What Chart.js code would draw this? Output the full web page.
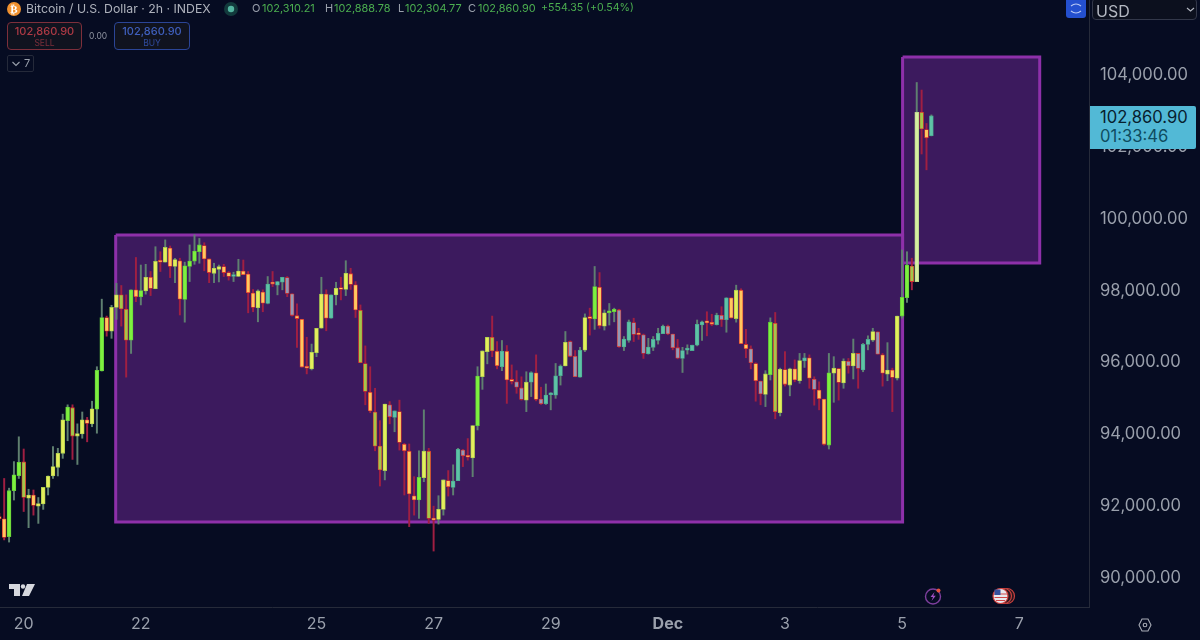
<!DOCTYPE html>
<html>
<head>
<meta charset="utf-8">
<title>Bitcoin / U.S. Dollar</title>
<script src="https://cdn.jsdelivr.net/npm/chart.js@4"></script>
<style>
  html, body { margin: 0; padding: 0; background: #060c22; overflow: hidden; }
  #wrap { position: relative; width: 1200px; height: 640px; font-family: Inter, "Noto Sans", sans-serif; }
  canvas { position: absolute; left: 0; top: 0; }
  .t { position: absolute; white-space: nowrap; line-height: 1; }
  .box { position: absolute; box-sizing: border-box; border-radius: 4px; background: #10131f; }
  .g { color: #4caf50; font-size: 10.9px; top: 3px; }
  .k { color: #9aa0ac; font-size: 11px; top: 3px; }
  svg { position: absolute; }
</style>
</head>
<body>
<div id="wrap">
  <canvas id="chart" width="1200" height="640"></canvas>

  <svg style="left:7px;top:2px" width="14" height="14"><circle cx="7" cy="7" r="7" fill="#f0912f"/><text x="7" y="11" font-size="11" font-family="DejaVu Sans" font-weight="bold" fill="#fff" text-anchor="middle">₿</text></svg>
  <div class="t" style="left:26px;top:3px;font-size:12.3px;color:#aeb2bc">Bitcoin / U.S. Dollar · 2h · INDEX</div>
  <svg style="left:224px;top:2px" width="14" height="14"><circle cx="7" cy="7" r="7" fill="#123a3c"/><circle cx="7" cy="7" r="3.2" fill="#53b5a0"/></svg>
  <div class="t k" style="left:252px">O</div><div class="t g" style="left:262px">102,310.21</div>
  <div class="t k" style="left:325px">H</div><div class="t g" style="left:334px">102,888.78</div>
  <div class="t k" style="left:398px">L</div><div class="t g" style="left:405px">102,304.77</div>
  <div class="t k" style="left:468px">C</div><div class="t g" style="left:478px">102,860.90</div>
  <div class="t g" style="left:541px;font-size:10.6px">+554.35 (+0.54%)</div>

  <div class="box" style="left:7px;top:22px;width:75px;height:28px;border:1px solid #7d2f3b"></div>
  <div class="t" style="left:7px;top:26px;width:75px;text-align:center;font-size:11px;font-weight:500;color:#ad3a45">102,860.90</div>
  <div class="t" style="left:7px;top:39px;width:75px;text-align:center;font-size:8.5px;color:#7d2f3b">SELL</div>
  <div class="t" style="left:89px;top:32px;font-size:8.5px;color:#8e93a0">0.00</div>
  <div class="box" style="left:114px;top:22px;width:76px;height:28px;border:1px solid #2b4596"></div>
  <div class="t" style="left:114px;top:26px;width:76px;text-align:center;font-size:11px;font-weight:500;color:#3f5fbd">102,860.90</div>
  <div class="t" style="left:114px;top:39px;width:76px;text-align:center;font-size:8.5px;color:#2f4a9c">BUY</div>
  <div class="box" style="left:7px;top:55px;width:27px;height:17px;border:1px solid #252a3a;background:none;border-radius:2px"></div>
  <svg style="left:11px;top:60px" width="10" height="8"><path d="M1.5 2 L5 5.5 L8.5 2" stroke="#9aa0ac" stroke-width="1.1" fill="none"/></svg>
  <div class="t" style="left:24px;top:58px;font-size:11px;color:#9aa0ac">7</div>

  <div style="position:absolute;left:1066px;top:0;width:20px;height:18px;background:#2450cf;border-radius:0 0 3px 3px"></div>
  <svg style="left:1070px;top:2px" width="12" height="13"><path d="M1 4 Q6 0 11 4 M1 9 Q6 13 11 9" stroke="#b8c8f4" stroke-width="1.2" fill="none"/></svg>
  <div class="box" style="left:1092px;top:-2px;width:105px;height:22px;border:1px solid #33384a;background:#0c101e"></div>
  <div class="t" style="left:1096px;top:3px;font-size:16px;color:#b4b8c2">USD</div>
  <svg style="left:1186px;top:7px" width="9" height="6"><path d="M1 1 L4.5 4 L8 1" stroke="#b4b8c2" stroke-width="1.1" fill="none"/></svg>

  <div style="position:absolute;left:1090px;top:106px;width:106px;height:43px;background:#52b9d6;border-radius:0 2px 2px 0"></div>
  <div class="t" style="left:1100px;top:109px;font-size:16.6px;color:#07202e">102,860.90</div>
  <div class="t" style="left:1100px;top:128px;font-size:16.6px;color:#0e4c60">01:33:46</div>

  <svg style="left:9px;top:583px" width="27" height="15"><path d="M0 1 H11 V13 H5 V6 H0 Z M13 13 L18 1 H26 L20 13 Z" fill="#d6d8de"/><circle cx="14" cy="3.5" r="2.2" fill="#d6d8de"/></svg>
  <svg style="left:923px;top:586px" width="22" height="20"><circle cx="10" cy="10.5" r="7.5" stroke="#7e3f9d" stroke-width="1.4" fill="none"/><path d="M11.5 6 L7.5 11 H10 L8.5 15 L12.8 9.8 H10.3 Z" fill="#a04fc4"/><circle cx="15.5" cy="4.5" r="2" fill="#e5533d"/></svg>
  <svg style="left:992px;top:586px" width="24" height="20"><circle cx="15" cy="10" r="7.5" fill="#2a1720" stroke="#c8413e" stroke-width="1.2"/><circle cx="12" cy="10" r="7.5" fill="#2a1720" stroke="#c8413e" stroke-width="1.2"/><circle cx="8.5" cy="10" r="7.5" fill="#e8e8ee" stroke="#d03f3c" stroke-width="1.2"/><path d="M2 8 H15 M2.5 11.5 H15 M4 14.5 H13" stroke="#d04848" stroke-width="1.2"/><path d="M2.5 3.5 H8.5 V9 H2.5 Z" fill="#35509c"/></svg>
  <svg style="left:1138px;top:618px" width="14" height="14"><path d="M4 1 H10 L13 7 L10 13 H4 L1 7 Z" stroke="#a8acb6" stroke-width="1.1" fill="none"/><circle cx="7" cy="7" r="1.8" stroke="#a8acb6" stroke-width="1.1" fill="none"/></svg>
</div>

<script>
// 2h candles, first one sits 5 bars left of the "20" tick
const firstBar = -5;
const barsPerDay = 12;

const opens = [
  91710, 91650, 91150, 92430, 92850, 93230, 92220, 92310, 92000, 92060,
  92520, 92840, 93080, 93470, 94380, 94740, 93950, 94010, 94400, 94290,
  94700, 95760, 97250, 96870, 97530, 97880, 97480, 96620, 98020, 97830,
  97990, 98370, 98050, 98810, 98790, 99180, 98670, 98830, 97750, 98670,
  98820, 99080, 99250, 98880, 98480, 98590, 98670, 98500, 98390, 98390,
  98540, 98460, 97930, 97520, 97960, 97640, 98200, 98150, 98230, 98360,
  97910, 97300, 97200, 95870, 95820, 96270, 96950, 97900, 97230, 97880,
  98050, 98030, 98470, 98160, 97450, 95970, 95170, 94620, 93670, 92990,
  94820, 94470, 94630, 93720, 93530, 92290, 92170, 92790, 93530, 91660,
  91630, 91910, 92710, 92520, 92710, 93560, 93390, 93340, 94240, 95600,
  96300, 96700, 96310, 95880, 96310, 95510, 95460, 95290, 94950, 95450,
  95710, 94980, 94850, 95100, 95090, 95630, 95900, 96580, 96170, 95590,
  96340, 97250, 97210, 98090, 97010, 97380, 97410, 97460, 96430, 96610,
  97110, 96790, 96770, 96240, 96420, 96610, 96800, 97010, 96790, 96410,
  96110, 96340, 96330, 96480, 97040, 97120, 97090, 97050, 97310, 97190,
  97800, 97220, 98010, 96500, 96380, 95970, 95480, 95110, 95660, 97090,
  94600, 95800, 95370, 95820, 95490, 96040, 96130, 95530, 95230, 94980,
  93700, 95700, 95830, 95430, 96030, 95900, 96250, 95790, 96500, 96620,
  96850, 96210, 95670, 95790, 95560, 97290, 97800, 98680, 98250, 102960,
  102480, 102310
];
const highs = [
  91800, 92770, 92500, 93240, 93930, 93590, 92470, 92450, 92240, 92520,
  92840, 93660, 93610, 94560, 94820, 94820, 94290, 94620, 94470, 94920,
  95880, 97760, 97290, 97590, 98200, 98140, 97880, 98020, 98920, 98710,
  98730, 98530, 99220, 99080, 99410, 99240, 98900, 98900, 98790, 99270,
  99550, 99450, 99330, 98880, 98760, 98710, 98730, 98530, 98510, 98870,
  98850, 98530, 98030, 98020, 98020, 98390, 98530, 98250, 98370, 98390,
  97910, 97630, 97200, 96700, 96510, 96950, 98370, 98020, 97880, 98230,
  98370, 98830, 98620, 98250, 97600, 96460, 95880, 95280, 94380, 94840,
  94910, 94650, 94950, 93750, 93730, 92820, 93540, 94680, 93610, 92000,
  92290, 92730, 92990, 93150, 93610, 93580, 93880, 94240, 95880, 96320,
  96700, 97290, 96580, 96610, 96470, 95930, 95770, 95600, 95740, 95740,
  96210, 95310, 95400, 95160, 95970, 95930, 96860, 96600, 96330, 96420,
  97350, 97510, 98670, 98500, 97460, 97640, 97510, 97480, 96720, 97180,
  97230, 96950, 96790, 96670, 96720, 96950, 97040, 97040, 96790, 96640,
  96420, 96490, 96480, 97180, 97150, 97410, 97340, 97370, 97550, 97800,
  97800, 98150, 98050, 96920, 96460, 95990, 95480, 95770, 97240, 97390,
  95840, 96300, 95840, 96070, 96250, 96250, 96210, 95600, 95460, 94980,
  96250, 96160, 95830, 96100, 96110, 96650, 96250, 96530, 96740, 96950,
  96850, 96250, 96550, 95840, 97290, 99130, 99080, 98900, 103790, 103580,
  102650, 102888
];
const lows = [
  91600, 91060, 91000, 92170, 92770, 91850, 91400, 91750, 91520, 91910,
  92310, 92770, 92840, 93330, 93820, 93300, 93160, 93890, 93790, 94210,
  94030, 95760, 96730, 96670, 97200, 97010, 95590, 96250, 97690, 97600,
  97900, 97860, 98050, 98530, 98790, 98360, 98220, 97320, 97120, 98250,
  98730, 98760, 98550, 98220, 98220, 98240, 98390, 98290, 98250, 98390,
  98440, 97380, 97410, 97130, 97410, 97630, 98110, 97880, 98020, 97830,
  97290, 96420, 95870, 95680, 95790, 96160, 96950, 96880, 97230, 97600,
  97740, 97860, 98030, 97250, 95990, 94820, 94600, 93540, 92560, 92730,
  94290, 94070, 93560, 92310, 91430, 91750, 91660, 92680, 91520, 90750,
  91500, 91750, 92280, 92310, 92710, 93100, 93280, 92820, 94120, 95250,
  95960, 96160, 95820, 95770, 94860, 95400, 95140, 94950, 94630, 95050,
  94930, 94830, 94830, 94680, 95000, 95370, 95900, 96160, 95600, 95590,
  96300, 96760, 96920, 96950, 96900, 97040, 97130, 96420, 96330, 96560,
  96580, 96640, 96110, 96230, 96330, 96510, 96800, 96770, 96350, 96100,
  95720, 96230, 96330, 96460, 96610, 96740, 97020, 97040, 97000, 96840,
  97230, 97120, 96520, 96130, 95820, 94920, 94820, 94770, 95510, 94430,
  94510, 95340, 95070, 95460, 95420, 95860, 95280, 94810, 94680, 93700,
  93590, 94890, 94950, 95280, 95700, 95540, 95280, 95740, 96350, 96580,
  96230, 95340, 95490, 94630, 95510, 97230, 97670, 98020, 98250, 101800,
  101360, 102304
];
const closes = [
  91650, 91130, 92430, 92870, 93220, 92240, 92310, 92020, 92070, 92520,
  92840, 93100, 93470, 94400, 94760, 93950, 94020, 94400, 94300, 94710,
  95780, 97250, 96870, 97530, 97880, 97490, 96620, 98020, 97830, 98000,
  98370, 98060, 98810, 98790, 99200, 98670, 98860, 97760, 98690, 98820,
  99100, 99270, 98880, 98500, 98620, 98670, 98500, 98390, 98410, 98540,
  98440, 97940, 97530, 97990, 97650, 98180, 98180, 98250, 98370, 97920,
  97310, 97220, 95870, 95840, 96280, 96950, 97900, 97230, 97880, 98060,
  98030, 98480, 98170, 97460, 95990, 95190, 94650, 93670, 93010, 94840,
  94490, 94650, 93770, 93540, 92340, 92170, 92800, 93530, 91660, 91610,
  91910, 92730, 92540, 92700, 93580, 93400, 93360, 94240, 95620, 96320,
  96700, 96320, 95910, 96310, 95510, 95470, 95310, 94970, 95450, 95720,
  94970, 94850, 95090, 95130, 95630, 95900, 96560, 96170, 95600, 96340,
  97250, 97220, 98110, 97020, 97380, 97420, 97480, 96440, 96650, 97130,
  96780, 96770, 96250, 96430, 96640, 96810, 97010, 96790, 96410, 96120,
  96330, 96360, 96480, 97060, 97130, 97100, 97060, 97320, 97190, 97800,
  97240, 98010, 96520, 96380, 95990, 95490, 95120, 95680, 97120, 94630,
  95810, 95390, 95820, 95510, 96050, 96130, 95560, 95250, 94990, 93720,
  95710, 95840, 95440, 96040, 95900, 96250, 95830, 96500, 96640, 96860,
  96230, 95700, 95790, 95580, 97290, 97810, 98710, 98250, 102960, 102500,
  102250, 102860
];
// how strong the bar is, 0 strongest .. 2 weakest, 3 the breakout bar
const strength = [
  1, 1, 0, 0, 0, 0, 1, 1, 1, 1,
  1, 1, 1, 1, 0, 0, 1, 1, 1, 1,
  0, 0, 1, 1, 1, 0, 0, 0, 1, 0,
  1, 1, 1, 1, 1, 1, 1, 1, 0, 0,
  0, 0, 1, 1, 1, 1, 1, 1, 2, 1,
  1, 1, 1, 1, 1, 2, 1, 2, 2, 2,
  2, 1, 1, 1, 1, 1, 1, 1, 2, 1,
  1, 1, 1, 1, 0, 0, 1, 0, 0, 1,
  2, 2, 1, 1, 1, 1, 0, 1, 0, 1,
  1, 1, 1, 2, 2, 2, 1, 1, 0, 1,
  1, 0, 1, 2, 1, 1, 2, 2, 1, 2,
  1, 2, 2, 2, 2, 2, 1, 2, 2, 2,
  1, 1, 0, 1, 1, 0, 0, 2, 2, 2,
  2, 1, 2, 2, 2, 2, 2, 2, 2, 2,
  2, 2, 2, 2, 2, 1, 1, 2, 2, 2,
  1, 1, 1, 1, 2, 1, 2, 1, 0, 0,
  1, 1, 1, 1, 1, 2, 1, 2, 1, 1,
  0, 1, 1, 1, 2, 1, 2, 2, 2, 1,
  2, 1, 1, 1, 1, 0, 0, 0, 3, 0,
  1, 2
];

const dayTicks = [0, 2, 5, 7, 9, 11, 13, 15, 17];
const dayLabels = ['20', '22', '25', '27', '29', 'Dec', '3', '5', '7'];
const priceTicks = [90000, 92000, 94000, 96000, 98000, 100000, 102000, 104000];

const boxStarts = [18.85, 180.1];
const boxEnds = [180.1, 208.2];
const boxTops = [99546, 104500];
const boxBottoms = [91558, 98767];

const upFill = ['#7df03f', '#e4ee5c', '#5ec3a6', '#d6eea0'];
const upEdge = ['#62c83a', '#a9cc4e', '#4aa890', '#b9d48a'];
const downFill = ['#a4c64a', '#ffc75e', '#9299b6', '#ffc75e'];
const downEdge = '#d8342f';
const upWick = '#5f8070';
const downWick = '#a01f42';

const isUp = opens.map((o, i) => closes[i] >= o);
const barX = opens.map((o, i) => firstBar + i);

const wicks = {
  label: 'wick',
  data: barX.map((x, i) => ({ x: x, y: [lows[i], highs[i]] })),
  backgroundColor: isUp.map(u => u ? upWick : downWick),
  barThickness: 1.3,
  grouped: false,
  order: 2
};
const bodies = {
  label: 'body',
  data: barX.map((x, i) => ({ x: x, y: [opens[i], closes[i]] })),
  backgroundColor: isUp.map((u, i) => u ? upFill[strength[i]] : downFill[strength[i]]),
  borderColor: isUp.map((u, i) => u ? upEdge[strength[i]] : downEdge),
  borderWidth: 0.8,
  borderSkipped: false,
  barThickness: 3.9,
  minBarLength: 2,
  grouped: false,
  order: 1
};
const boxes = boxStarts.map((s, i) => ({
  type: 'scatter',
  label: 'box' + i,
  data: [
    { x: s, y: boxTops[i] },
    { x: boxEnds[i], y: boxTops[i] },
    { x: boxEnds[i], y: boxBottoms[i] },
    { x: s, y: boxBottoms[i] },
    { x: s, y: boxTops[i] }
  ],
  showLine: true,
  pointRadius: 0,
  borderColor: '#8e30aa',
  borderWidth: 3,
  backgroundColor: '#3c1a5e',
  fill: 'shape',
  tension: 0,
  order: 3
}));

new Chart(document.getElementById('chart').getContext('2d'), {
  type: 'bar',
  data: { datasets: boxes.concat([wicks, bodies]) },
  options: {
    responsive: false,
    animation: false,
    events: [],
    layout: { padding: 0 },
    plugins: { legend: { display: false }, tooltip: { enabled: false }, title: { display: false } },
    scales: {
      x: {
        type: 'linear',
        offset: false,
        min: -4.857,
        max: 218.3,
        grid: { display: false, drawTicks: false },
        border: { display: true, color: '#262b3a', width: 1 },
        afterBuildTicks: s => { s.ticks = dayTicks.map(d => ({ value: d * barsPerDay })); },
        afterFit: s => { s.height = 33; s.paddingLeft = 0; s.paddingRight = 0; },
        ticks: {
          autoSkip: false,
          maxRotation: 0,
          padding: 8,
          color: '#9aa0ac',
          font: c => ({ family: 'Inter', size: 16, weight: c.index === 5 ? '700' : '400' }),
          callback: (v, i) => dayLabels[i]
        }
      },
      y: {
        position: 'right',
        min: 89193,
        max: 106086,
        grid: { display: false, drawTicks: false },
        border: { display: true, color: '#262b3a', width: 1 },
        afterBuildTicks: s => { s.ticks = priceTicks.map(p => ({ value: p })); },
        afterFit: s => { s.width = 111; s.paddingTop = 0; s.paddingBottom = 0; },
        ticks: {
          autoSkip: false,
          crossAlign: 'near',
          padding: 11,
          color: '#9aa0ac',
          font: { family: 'Inter', size: 16.6 },
          callback: v => v.toLocaleString('en-US', { minimumFractionDigits: 2, maximumFractionDigits: 2 })
        }
      }
    }
  }
});
</script>
</body>
</html>
